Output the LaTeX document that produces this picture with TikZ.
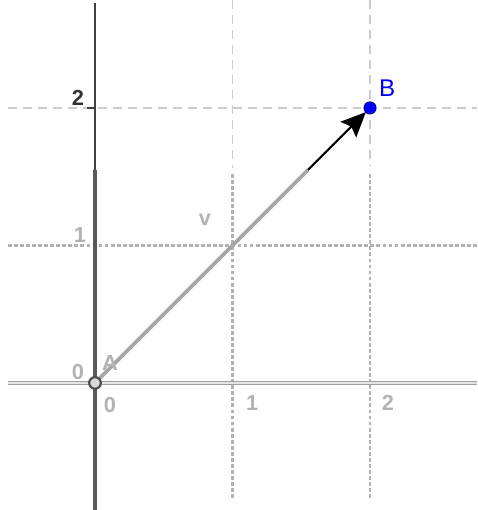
\documentclass[tikz,border=0pt]{standalone}
\usepackage{fontspec}
\setmainfont{Liberation Sans}
\usetikzlibrary{arrows.meta}

\begin{document}
\begin{tikzpicture}[
  x=2cm, y=2cm,
  >={Stealth[length=3.6mm, width=3.2mm, inset=0.6mm]},
  axis/.style={draw=black!75, line width=1.1pt},
  axisold/.style={draw=gray!75, double=gray!20, double distance=0.5pt, line width=0.5pt},
  grid/.style={draw=gray!40, line width=0.8pt, dash pattern=on 3.7pt off 2.5pt},
  gridold/.style={draw=gray!60, line width=0.9pt, dash pattern=on 1.6pt off 0.9pt},
  lab/.style={font=\fontsize{9}{10}\selectfont\bfseries, text=black!80, inner sep=0pt},
  labold/.style={font=\fontsize{9}{10}\selectfont\bfseries, text=gray!60, inner sep=0pt}
]
\useasboundingbox (-0.691,-0.924) rectangle (2.778,2.785);

% Points
\coordinate (A) at (0,0);
\coordinate (B) at (2,2);
\coordinate (vmid) at (1.549,1.549);

% Grid (clean part)
\draw[grid] (-0.633,2) -- (2.778,2);
\draw[grid] (1,2.785) -- (1,1.56);
\draw[grid] (2,2.785) -- (2,1.58);

% Grid (old part)
\draw[gridold] (-0.633,1) -- (2.778,1);
\draw[gridold] (1,1.52) -- (1,-0.851);
\draw[gridold] (2,1.52) -- (2,-0.851);

% Axes
\draw[axis] (0,2.764) -- (0,1.549);
\draw[axis, draw=black!65, line width=1.3pt] (0,1.549) -- (0,-0.924);
\draw[axisold] (-0.633,0) -- (2.778,0);
\draw[axis, line width=0.9pt] (-0.06,2) -- (0,2);

% Axis labels
\node[lab] (ytwo) at (-0.124,2.073) {2};
\node[labold] (yone) at (-0.109,1.076) {1};
\node[labold] (yzero) at (-0.124,0.08) {0};
\node[labold] (xzero) at (0.109,-0.16) {0};
\node[labold] (xone) at (1.142,-0.145) {1};
\node[labold] (xtwo) at (2.131,-0.145) {2};

% Vector
\draw[draw=gray!70, line width=1.5pt] (A) -- (vmid);
\draw[->, line width=0.9pt] (vmid) -- ([shift={(-0.03,-0.03)}]B);
\node[labold] (vlab) at (0.8,1.185) {v};

% Point A
\draw[draw=black!70, line width=0.9pt, fill=gray!30] (A) circle (2.4pt);
\node[labold] (alab) at (0.109,0.145) {A};

% Point B
\fill[blue, draw=blue!60!black, line width=0.4pt] (B) circle (2.5pt);
\node[lab, text=blue, font=\fontsize{10}{11}\selectfont] (blab) at (2.124,2.145) {B};
\end{tikzpicture}
\end{document}
